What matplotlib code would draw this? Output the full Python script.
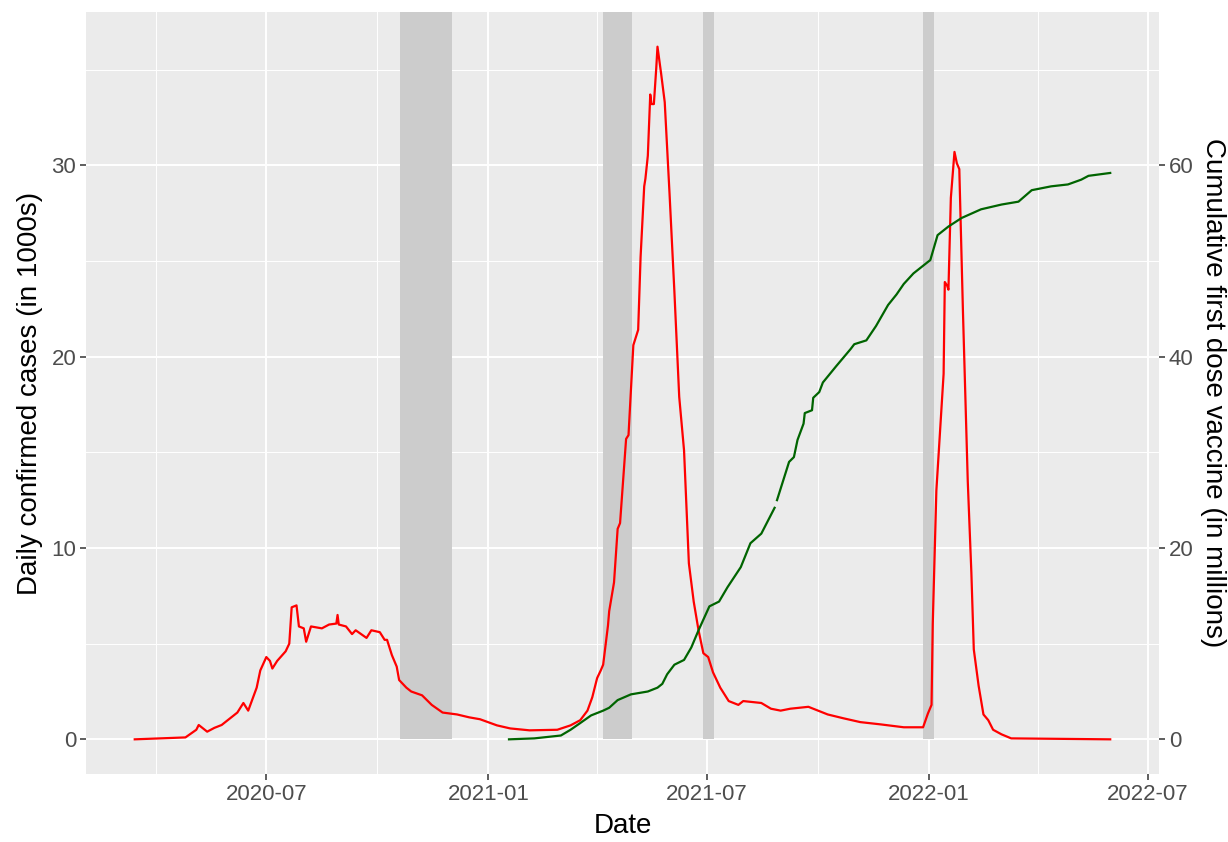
import numpy as np
import pandas as pd
import matplotlib
matplotlib.use("Agg")
import matplotlib.pyplot as plt
import matplotlib.dates as mdates

plt.rcParams['font.family'] = ['Liberation Sans', 'DejaVu Sans']

# daily confirmed cases (in 1000s)
case_dates = ["2020-03-14", "2020-04-03", "2020-04-25", "2020-05-04", "2020-05-06", "2020-05-13",
              "2020-05-19", "2020-05-25", "2020-06-01", "2020-06-07", "2020-06-12", "2020-06-16",
              "2020-06-23", "2020-06-26", "2020-07-01", "2020-07-04", "2020-07-06", "2020-07-10",
              "2020-07-17", "2020-07-20", "2020-07-22", "2020-07-26", "2020-07-28", "2020-08-01",
              "2020-08-03", "2020-08-07", "2020-08-16", "2020-08-22", "2020-08-28", "2020-08-29",
              "2020-08-30", "2020-09-05", "2020-09-10", "2020-09-13", "2020-09-22", "2020-09-26",
              "2020-10-03", "2020-10-07", "2020-10-09", "2020-10-13", "2020-10-17", "2020-10-19",
              "2020-10-25", "2020-10-29", "2020-11-07", "2020-11-15", "2020-11-24", "2020-12-06",
              "2020-12-16", "2020-12-25", "2021-01-08", "2021-01-19", "2021-02-04", "2021-02-27",
              "2021-03-10", "2021-03-18", "2021-03-24", "2021-03-28", "2021-04-01", "2021-04-04",
              "2021-04-06", "2021-04-10", "2021-04-11", "2021-04-15", "2021-04-18", "2021-04-20",
              "2021-04-25", "2021-04-27", "2021-05-01", "2021-05-05", "2021-05-07", "2021-05-10",
              "2021-05-11", "2021-05-13", "2021-05-15", "2021-05-16", "2021-05-18", "2021-05-20",
              "2021-05-21", "2021-05-24", "2021-05-27", "2021-05-31", "2021-06-04", "2021-06-08",
              "2021-06-12", "2021-06-16", "2021-06-20", "2021-06-24", "2021-06-28", "2021-07-02",
              "2021-07-06", "2021-07-12", "2021-07-19", "2021-07-27", "2021-07-31", "2021-08-15",
              "2021-08-23", "2021-08-31", "2021-09-08", "2021-09-23", "2021-10-01", "2021-10-09",
              "2021-10-22", "2021-11-05", "2021-11-22", "2021-12-11", "2021-12-27", "2021-12-31",
              "2022-01-03", "2022-01-04", "2022-01-07", "2022-01-13", "2022-01-14", "2022-01-16",
              "2022-01-17", "2022-01-19", "2022-01-22", "2022-01-24", "2022-01-26", "2022-01-29",
              "2022-02-02", "2022-02-05", "2022-02-07", "2022-02-11", "2022-02-15", "2022-02-19",
              "2022-02-23", "2022-03-02", "2022-03-10", "2022-05-31"]
case_values = [0.0, 0.05, 0.1, 0.5, 0.75, 0.4,
               0.6, 0.75, 1.1, 1.4, 1.9, 1.5,
               2.7, 3.6, 4.3, 4.1, 3.7, 4.1,
               4.6, 5.0, 6.9, 7.0, 5.9, 5.8,
               5.1, 5.9, 5.8, 6.0, 6.05, 6.5,
               6.0, 5.9, 5.5, 5.7, 5.3, 5.7,
               5.6, 5.2, 5.2, 4.4, 3.8, 3.1,
               2.7, 2.5, 2.3, 1.8, 1.4, 1.3,
               1.15, 1.05, 0.73, 0.57, 0.47, 0.5,
               0.73, 1.0, 1.5, 2.2, 3.2, 3.6,
               3.9, 5.95, 6.7, 8.2, 11.0, 11.3,
               15.7, 15.9, 20.6, 21.4, 25.2, 28.9,
               29.3, 30.5, 33.7, 33.2, 33.2, 35.1,
               36.2, 34.8, 33.3, 28.5, 23.4, 17.9,
               15.1, 9.2, 7.2, 5.7, 4.5, 4.3,
               3.5, 2.7, 2.0, 1.8, 2.0, 1.9,
               1.6, 1.5, 1.6, 1.7, 1.5, 1.3,
               1.1, 0.9, 0.78, 0.63, 0.63, 1.35,
               1.8, 6.0, 13.0, 19.1, 23.9, 23.7,
               23.5, 28.3, 30.7, 30.1, 29.8, 22.4,
               13.5, 8.7, 4.7, 2.8, 1.3, 1.0,
               0.5, 0.26, 0.05, 0.0]

# cumulative first dose vaccine (in millions); NaN = gap in the line
vax_dates = ["2021-01-18", "2021-02-08", "2021-03-02", "2021-03-10", "2021-03-18", "2021-03-27",
             "2021-04-06", "2021-04-11", "2021-04-18", "2021-04-29", "2021-05-13", "2021-05-21",
             "2021-05-25", "2021-05-29", "2021-06-04", "2021-06-12", "2021-06-18", "2021-06-24",
             "2021-07-03", "2021-07-11", "2021-07-18", "2021-07-29", "2021-08-06", "2021-08-15",
             "2021-08-26", "2021-08-27", "2021-08-28", "2021-09-07", "2021-09-11", "2021-09-14",
             "2021-09-19", "2021-09-20", "2021-09-26", "2021-09-27", "2021-10-02", "2021-10-05",
             "2021-10-16", "2021-10-28", "2021-10-31", "2021-11-10", "2021-11-18", "2021-11-28",
             "2021-12-05", "2021-12-11", "2021-12-19", "2021-12-27", "2022-01-02", "2022-01-08",
             "2022-01-17", "2022-01-28", "2022-02-13", "2022-03-02", "2022-03-16", "2022-03-27",
             "2022-04-12", "2022-04-26", "2022-05-07", "2022-05-13", "2022-05-31"]
vax_values = [0.0, 0.1, 0.4, 1.0, 1.7, 2.5,
              3.0, 3.3, 4.1, 4.7, 5.0, 5.4,
              5.8, 6.8, 7.8, 8.3, 9.6, 11.4,
              13.9, 14.4, 15.9, 18.0, 20.5, 21.5,
              24.2, np.nan, 25.0, 29.0, 29.5, 31.3,
              33.0, 34.1, 34.4, 35.7, 36.3, 37.3,
              39.0, 40.8, 41.3, 41.7, 43.2, 45.4,
              46.5, 47.6, 48.7, 49.5, 50.1, 52.7,
              53.6, 54.5, 55.4, 55.9, 56.2, 57.4,
              57.8, 58.0, 58.5, 58.9, 59.2]

# shaded periods
shade_start = ["2020-10-20", "2021-04-06", "2021-06-28", "2021-12-27"]
shade_end = ["2020-12-02", "2021-04-30", "2021-07-07", "2022-01-05"]

case_dates = pd.to_datetime(case_dates)
vax_dates = pd.to_datetime(vax_dates)
shade_start = pd.to_datetime(shade_start)
shade_end = pd.to_datetime(shade_end)

fig = plt.figure(figsize=(12.28, 8.42), dpi=100)
ax = fig.add_axes([0.0700, 0.0808, 0.8738, 0.9049])
ax.set_facecolor('#EBEBEB')
for s in ax.spines.values():
    s.set_visible(False)

# ggplot-like 5% expansion
x0, x1 = case_dates.min(), case_dates.max()
pad = (x1 - x0) * 0.05
ax.set_xlim(x0 - pad, x1 + pad)
ymax = max(case_values)
ax.set_ylim(-0.05 * ymax, 1.05 * ymax)

major_x = pd.to_datetime(["2020-07-01", "2021-01-01", "2021-07-01", "2022-01-01", "2022-07-01"])
minor_x = pd.to_datetime(["2020-04-01", "2020-10-01", "2021-04-01", "2021-10-01", "2022-04-01"])
ax.set_xticks(major_x)
ax.set_xticks(minor_x, minor=True)
ax.xaxis.set_major_formatter(mdates.DateFormatter('%Y-%m'))
ax.set_yticks([0, 10, 20, 30])
ax.set_yticks([5, 15, 25, 35], minor=True)
ax.grid(which='major', color='white', lw=1.4, zorder=0)
ax.grid(which='minor', color='white', lw=0.7, zorder=0)
ax.set_axisbelow(True)
ax.tick_params(which='major', length=4, width=1.1, color='#333333', labelsize=16,
               labelcolor='#4D4D4D', pad=3)
ax.tick_params(which='minor', length=0)

lo, hi = ax.get_ylim()
for s0, s1 in zip(shade_start, shade_end):
    ax.fill_between([s0, s1], 0, hi, color='#CCCCCC', lw=0, zorder=1)

ax.plot(case_dates, case_values, color='#FF0000', lw=1.6, zorder=3)

ax2 = ax.twinx()
ax2.set_ylim(lo * 2, hi * 2)
for s in ax2.spines.values():
    s.set_visible(False)
ax2.plot(vax_dates, vax_values, color='#006400', lw=1.6, zorder=3)
ax2.set_yticks([0, 20, 40, 60])
ax2.tick_params(length=4, width=1.1, color='#333333', labelsize=16, labelcolor='#4D4D4D', pad=3)

ax.set_xlabel("Date", fontsize=20, color='black', va='center')
ax.xaxis.set_label_coords(0.5, -0.068)
ax.set_ylabel("Daily confirmed cases (in 1000s)", fontsize=20, color='black', va='center')
ax.yaxis.set_label_coords(-0.052, 0.5)
ax2.set_ylabel("Cumulative first dose vaccine (in millions)", fontsize=20, color='black',
               rotation=-90, va='center')
ax2.yaxis.set_label_coords(1.0505, 0.5)

fig.savefig("out.png", dpi=100)
